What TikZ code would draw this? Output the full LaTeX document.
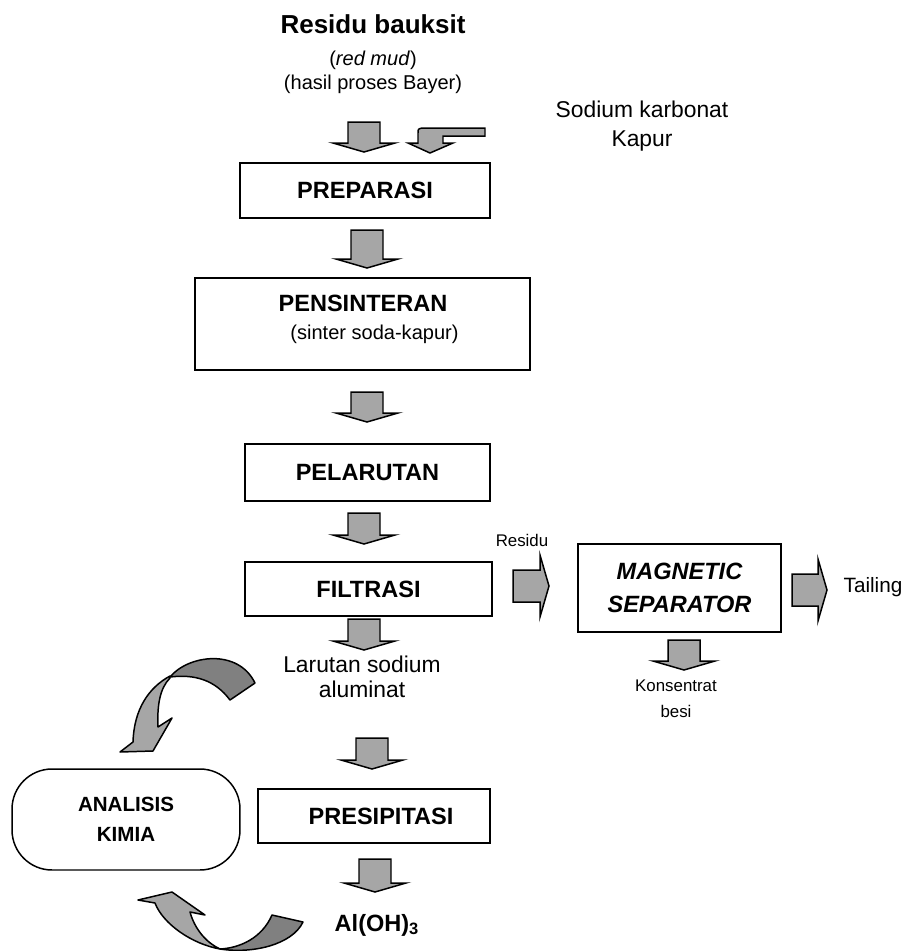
\documentclass[tikz,border=0pt]{standalone}
\usepackage{fontspec}
\setmainfont{Liberation Sans}
\definecolor{abu}{HTML}{A6A6A6}
\definecolor{abutua}{HTML}{808080}
\tikzset{
  kotak/.style={draw, line width=0.85pt, inner sep=0pt,
    font=\bfseries\fontsize{13.4}{15}\selectfont},
  judul/.style={font=\bfseries\fontsize{14.8}{17}\selectfont},
  teks/.style={align=center, font=\fontsize{11.4}{13.6}\selectfont},
  kecil/.style={align=center, font=\fontsize{9.6}{14.7}\selectfont},
  panahblok/.style={draw, fill=abu, line width=0.85pt, line join=miter},
  lengkung/.style={draw, line width=0.85pt, line join=round}
}
% panah blok: x, y ekor, arah, panjang batang
\newcommand{\panah}[4]{%
  \draw[panahblok, shift={(#1,#2)}, rotate=#3]
    (0,-16) -- (#4,-16) -- (#4,-31) -- ({#4+9},0) -- (#4,31) -- (#4,16)
    -- (0,16) -- cycle;}

\begin{document}
\begin{tikzpicture}[x=0.02cm, y=-0.02cm]
  \useasboundingbox (0,0) rectangle (913,951);

  % bahan awal
  \node[judul] (bahan) at (373,24) {Residu bauksit};
  \node[teks] (redmud) at (373,72) {(\textit{red mud})\\(hasil proses Bayer)};
  \node[teks, font=\fontsize{13}{16.4}\selectfont] (aditif) at (642,126)
    {Sodium karbonat\\Kapur};

  \panah{364}{122}{-90}{21}
  \draw[panahblok] (485,128) -- (485,136) -- (443,136) -- (443,143)
    -- (453,143) -- (430,153) -- (408,143) -- (418,143) -- (418,133)
    .. controls (418,129) .. (422,128) -- cycle;

  % proses utama
  \node[kotak, minimum width=5cm, minimum height=1.1cm] (prep)
    at (365,190.5) {PREPARASI};
  \panah{367}{230}{-90}{29}
  \node[kotak, minimum width=6.7cm, minimum height=1.84cm] (pens)
    at (362.5,324) {};
  \node[kotak, draw=none] (pens-a) at (363,303.5) {PENSINTERAN};
  \node[teks] (pens-b) at (374.5,334.5) {(sinter soda-kapur)};
  \panah{367}{392}{-90}{21}
  \node[kotak, minimum width=4.9cm, minimum height=1.14cm] (pel)
    at (367.5,472.5) {PELARUTAN};
  \panah{364}{513}{-90}{22}
  \node[kotak, minimum width=4.94cm, minimum height=1.08cm] (filt)
    at (368.5,589) {FILTRASI};
  \panah{364}{619}{-90}{22}
  \node[teks, font=\fontsize{13}{14.2}\selectfont] (larutan) at (362,677)
    {Larutan sodium\\aluminat};
  \panah{372}{738}{-90}{22}
  \node[kotak, minimum width=4.64cm, minimum height=1.08cm] (presip)
    at (374,816) {\hspace{8pt}PRESIPITASI};
  \panah{375}{859}{-90}{24}
  \node[kotak, draw=none] (aloh) at (377,925) {Al(OH)\textsubscript{3}};

  % cabang residu
  \node[kecil] (residu) at (522,540) {Residu};
  \panah{513}{586}{0}{27}
  \node[kotak, align=center, minimum width=4.06cm, minimum height=1.76cm,
    font=\bfseries\itshape\fontsize{13.4}{18.4}\selectfont] (mag)
    at (679.5,588) {MAGNETIC\\SEPARATOR};
  \panah{792}{590}{0}{26}
  \node[teks, font=\fontsize{11.8}{14}\selectfont] (tailing) at (873,587)
    {Tailing};
  \panah{684}{640}{-90}{21}
  \node[kecil] (konsentrat) at (676,699) {Konsentrat\\besi};

  % analisis
  \node[kotak, rounded corners=0.8cm, align=center, minimum width=4.56cm,
    minimum height=2.02cm, font=\bfseries\fontsize{11.7}{17}\selectfont]
    (anal) at (126,819.5) {ANALISIS\\KIMIA};

  % panah lengkung atas
  \draw[lengkung, fill=abutua] (255,683) -- (230,700)
    .. controls (215,680) and (195,674) .. (170,677)
    .. controls (188,655) and (238,648) .. (255,683) -- cycle;
  \draw[lengkung, fill=abu] (170,676)
    .. controls (148,688) and (134,710) .. (133,742)
    -- (120,752) -- (153,751) -- (172,718) -- (158,727)
    .. controls (157,705) and (160,688) .. (170,678) -- cycle;

  % panah lengkung bawah
  \draw[lengkung, fill=abutua] (303,922) -- (272,915)
    .. controls (262,938) and (240,948) .. (220,949)
    .. controls (252,954) and (292,945) .. (303,922) -- cycle;
  \draw[lengkung, fill=abu] (220,949)
    .. controls (192,944) and (163,924) .. (155,903)
    -- (138,900) -- (172,892) -- (205,915) -- (190,912)
    .. controls (195,930) and (207,943) .. (220,949) -- cycle;
\end{tikzpicture}
\end{document}
